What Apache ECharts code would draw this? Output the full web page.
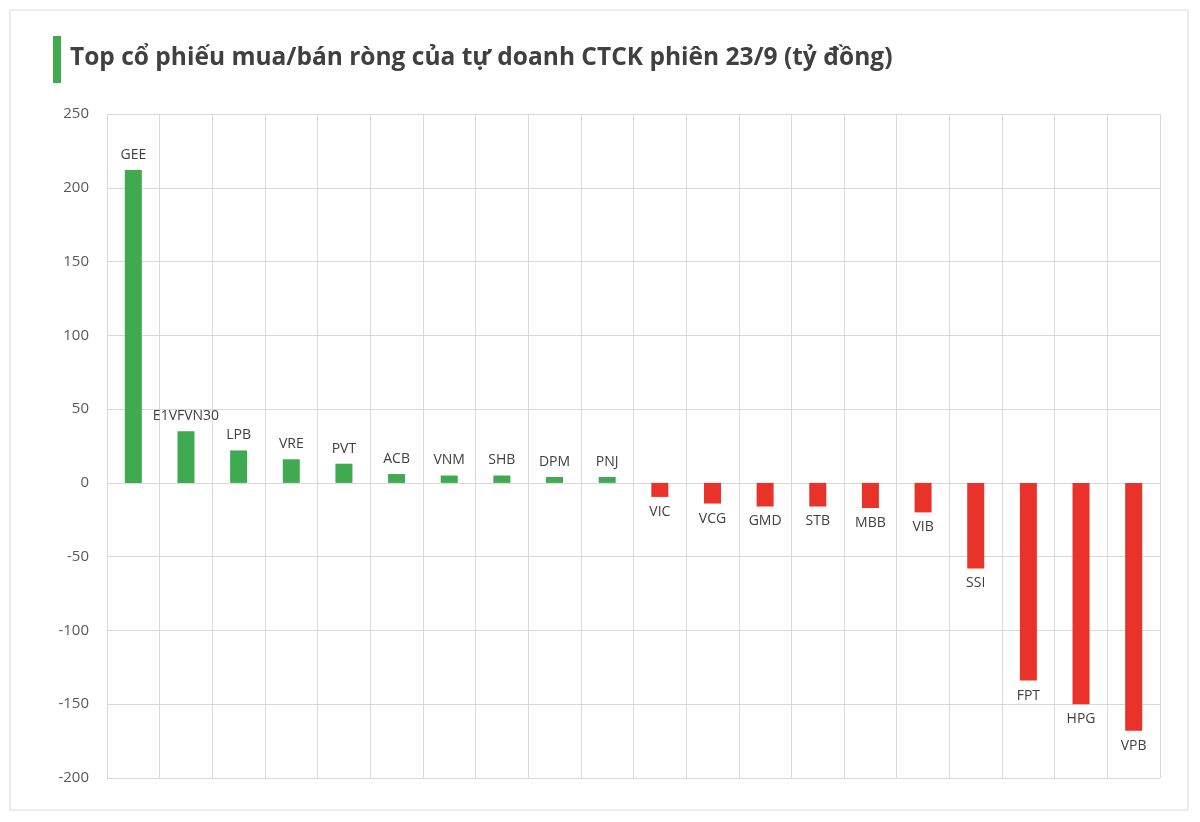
<!DOCTYPE html>
<html><head><meta charset="utf-8">
<script src="https://cdn.jsdelivr.net/npm/echarts@6/dist/echarts.min.js"></script>
<style>body{margin:0;background:#fff}#c{width:1200px;height:822px}</style>
</head><body><div id="c"></div>
<script>
const categories=["GEE","E1VFVN30","LPB","VRE","PVT","ACB","VNM","SHB","DPM","PNJ","VIC","VCG","GMD","STB","MBB","VIB","SSI","FPT","HPG","VPB"];
const values=[212,35,22,16,13,6,5,5,4,4,-9.5,-14,-16,-16,-17,-20,-58,-134,-150,-168];
const chart=echarts.init(document.getElementById('c'));
chart.setOption({
  animation:false,
  graphic:[
    {type:'rect',shape:{x:10,y:10,width:1178,height:800},style:{fill:'none',stroke:'#d9d9d9',lineWidth:1}},
    {type:'rect',shape:{x:53,y:36,width:8,height:47},style:{fill:'#3faa4f'}},
    {type:'text',left:70,top:46,style:{text:'Top cổ phiếu mua/bán ròng của tự doanh CTCK phiên 23/9 (tỷ đồng)',font:'bold 24.5px "Open Sans"',fill:'#404040'}}
  ],
  grid:{left:107,right:40,top:114,bottom:44},
  xAxis:{type:'category',data:categories,axisLabel:{show:false,interval:0},axisTick:{show:false,interval:0},axisLine:{show:false},
    splitLine:{show:true,interval:0,lineStyle:{color:'#d9d9d9'}}},
  yAxis:{type:'value',min:-200,max:250,interval:50,axisLine:{show:false},axisTick:{show:false},
    axisLabel:{color:'#595959',fontSize:15,fontFamily:'Open Sans',margin:18},splitLine:{lineStyle:{color:'#d9d9d9'}}},
  series:[{type:'bar',barWidth:17,
    data:values.map(v=>({value:v,itemStyle:{color:v>=0?'#3faa4f':'#e8322a'},
      label:{show:true,position:v>=0?'top':'bottom',distance:8,formatter:'{b}',color:'#404040',fontSize:14,fontFamily:'Open Sans'}}))}]
});
</script></body></html>
